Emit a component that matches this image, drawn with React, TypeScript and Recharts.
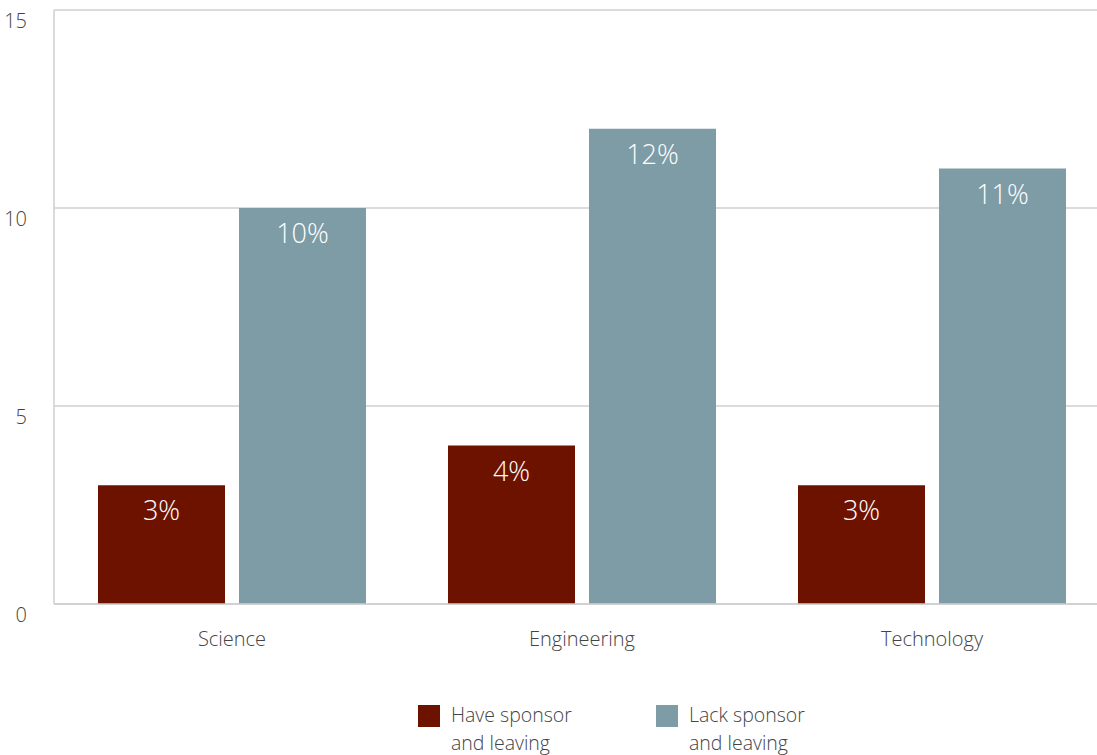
import { BarChart, Bar, XAxis, YAxis, CartesianGrid, LabelList } from 'recharts';

const categories = ['Science', 'Engineering', 'Technology'];
const haveSponsor = [3, 4, 3];
const lackSponsor = [10, 12, 11];
const yTicks = [0, 5, 10, 15];

const RED = '#6e1200';
const BLUE = '#7e9ca6';
const FONT = '"Open Sans", "Noto Sans", sans-serif';

const data = categories.map((name, i) => ({
  name,
  have: haveSponsor[i],
  lack: lackSponsor[i],
}));

const legendItems = [
  { color: RED, lines: ['Have sponsor', 'and leaving'], left: 418 },
  { color: BLUE, lines: ['Lack sponsor', 'and leaving'], left: 656 },
];

const YTick = (props: any) => {
  const { x, y, payload } = props;
  return (
    <text x={x} y={y} dy={18} textAnchor="end" fill="#444" fontSize={20} fontWeight={300} fontFamily={FONT}>
      {payload.value}
    </text>
  );
};

const XTick = (props: any) => {
  const { x, y, payload } = props;
  return (
    <text x={x} y={y} dy={34} textAnchor="middle" fill="#444" fontSize={20} fontWeight={300} fontFamily={FONT}>
      {payload.value}
    </text>
  );
};

// legend drawn as plain html under the chart so it takes no room from the plot
const LegendBox = () => (
  <div style={{ position: 'absolute', left: 0, top: 703, width: 1097, height: 52, fontFamily: FONT, fontWeight: 300 }}>
    {legendItems.map((item) => (
      <div key={item.lines[0]} style={{ position: 'absolute', left: item.left, top: 0, display: 'flex' }}>
        <div style={{ width: 22, height: 22, background: item.color, marginTop: 2 }} />
        <div style={{ marginLeft: 11, fontSize: 19.5, lineHeight: '28px', color: '#444', marginTop: -2 }}>
          {item.lines.map((l) => (
            <div key={l}>{l}</div>
          ))}
        </div>
      </div>
    ))}
  </div>
);

export default function App() {
  return (
    <div style={{ position: 'absolute', left: 0, top: 0, width: 1097, height: 755, overflow: 'hidden', background: '#fff' }}>
      <BarChart
        width={1107}
        height={755}
        data={data}
        margin={{ top: 10, right: 0, bottom: 111, left: 0 }}
        barCategoryGap={41}
        barGap={14}
      >
        <CartesianGrid vertical={false} stroke="#cfcfcf" strokeWidth={1.5} />
        <XAxis
          dataKey="name"
          padding={{ left: 3, right: 0 }}
          axisLine={{ stroke: '#cfcfcf', strokeWidth: 1.5 }}
          tickLine={false}
          tick={<XTick />}
          height={40}
        />
        <YAxis
          width={54}
          domain={[0, 15]}
          ticks={yTicks}
          axisLine={{ stroke: '#cfcfcf', strokeWidth: 1.5 }}
          tickLine={false}
          tickSize={0}
          tickMargin={27}
          tick={<YTick />}
        />
        <Bar dataKey="have" name="Have sponsor and leaving" fill={RED} isAnimationActive={false}>
          <LabelList
            dataKey="have"
            position="insideTop"
            offset={16}
            formatter={(v: any) => `${v}%`}
            fill="#fff"
            fontSize={27}
            fontWeight={300}
            fontFamily={FONT}
          />
        </Bar>
        <Bar dataKey="lack" name="Lack sponsor and leaving" fill={BLUE} isAnimationActive={false}>
          <LabelList
            dataKey="lack"
            position="insideTop"
            offset={16}
            formatter={(v: any) => `${v}%`}
            fill="#fff"
            fontSize={27}
            fontWeight={300}
            fontFamily={FONT}
          />
        </Bar>
      </BarChart>
      <LegendBox />
    </div>
  );
}
